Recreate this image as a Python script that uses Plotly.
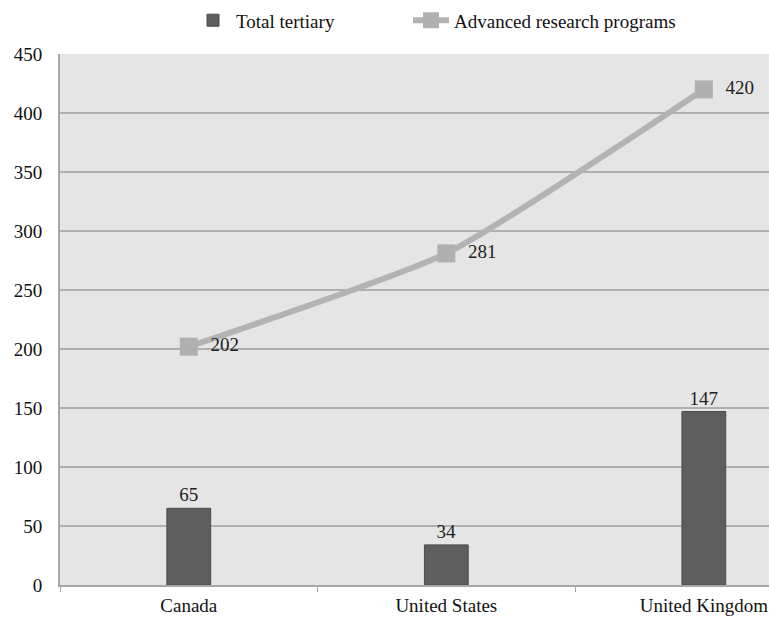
import plotly.graph_objects as go

categories = ["Canada", "United States", "United Kingdom"]
total_tertiary = [65, 34, 147]
advanced_research = [202, 281, 420]
y_ticks = [0, 50, 100, 150, 200, 250, 300, 350, 400, 450]

font_family = "Liberation Serif, Times New Roman, serif"

fig = go.Figure()
fig.add_trace(go.Bar(
    x=categories, y=total_tertiary, name="Total tertiary",
    marker=dict(color="#5e5e5e", line=dict(color="#4a4a4a", width=1)),
    width=0.17,
    text=[str(v) for v in total_tertiary], textposition="outside",
    textfont=dict(family=font_family, size=19, color="#222"),
    cliponaxis=False, legend="legend",
))
fig.add_trace(go.Scatter(
    x=categories, y=advanced_research, name="Advanced research programs",
    mode="lines+markers+text",
    line=dict(color="#b3b3b3", width=6, shape="spline", smoothing=0.5),
    marker=dict(symbol="square", size=18, color="#b0b0b0"),
    text=["  " + str(v) for v in advanced_research], textposition="middle right",
    textfont=dict(family=font_family, size=19, color="#222"),
    cliponaxis=False, legend="legend2",
))

legend_common = dict(orientation="h", xref="container", yref="container",
                     xanchor="left", yanchor="middle", y=0.967,
                     font=dict(family=font_family, size=19, color="#111"),
                     bgcolor="rgba(0,0,0,0)", itemwidth=36)

fig.update_layout(
    width=769, height=617,
    margin=dict(l=60, r=0, t=54, b=32, autoexpand=False),
    paper_bgcolor="white",
    plot_bgcolor="#e5e5e5",
    font=dict(family=font_family, size=19, color="#111"),
    showlegend=True,
    legend=dict(x=190 / 769, **legend_common),
    legend2=dict(x=408 / 769, **legend_common),
    bargap=0.8,
)
fig.update_xaxes(
    range=[-0.5, 2.253],
    showgrid=False, showline=True, linecolor="#a8a8a8", linewidth=2,
    ticks="outside", tickson="boundaries", ticklen=5, tickcolor="#a8a8a8",
    ticklabelstandoff=2,
    tickfont=dict(family=font_family, size=19, color="#111"),
)
fig.update_yaxes(
    range=[0, 450], tickvals=y_ticks,
    showgrid=True, gridcolor="#b0b0b0", gridwidth=2,
    showline=True, linecolor="#a8a8a8", linewidth=2,
    ticks="", ticklabelstandoff=12,
    tickfont=dict(family=font_family, size=19, color="#111"),
    zeroline=False,
)

fig.write_html("out.html")
